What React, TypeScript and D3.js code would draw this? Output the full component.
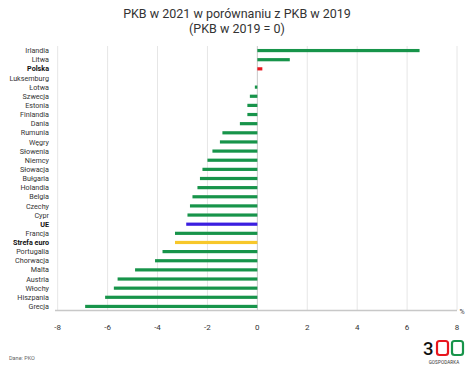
import React from "react";
import * as d3 from "d3";

const countries = [
  "Irlandia", "Litwa", "Polska", "Luksemburg", "Łotwa", "Szwecja", "Estonia", "Finlandia",
  "Dania", "Rumunia", "Węgry", "Słowenia", "Niemcy", "Słowacja", "Bułgaria", "Holandia",
  "Belgia", "Czechy", "Cypr", "UE", "Francja", "Strefa euro", "Portugalia", "Chorwacja",
  "Malta", "Austria", "Włochy", "Hiszpania", "Grecja",
];
const values = [
  6.5, 1.3, 0.2, 0.0, -0.1, -0.3, -0.4, -0.4,
  -0.7, -1.4, -1.5, -1.8, -2.0, -2.2, -2.3, -2.4,
  -2.6, -2.7, -2.8, -2.85, -3.3, -3.3, -3.8, -4.1,
  -4.9, -5.6, -5.75, -6.1, -6.9,
];
const boldLabels = ["Polska", "UE", "Strefa euro"];
const specialColors: Record<string, string> = {
  Polska: "#e8161e",
  UE: "#3b1ee0",
  "Strefa euro": "#f7c72a",
};
const xTicks = [-8, -6, -4, -2, 0, 2, 4, 6, 8];

const W = 474;
const H = 369;
const left = 57.7;
const right = 457;
const top = 46;
const bottom = 311;

export default function App() {
  const x = d3.scaleLinear().domain([-8, 8]).range([left, right]);
  const y = d3.scaleBand<string>().domain(countries).range([top, bottom]);
  const font = "Roboto, 'Open Sans', sans-serif";
  return (
    <svg width={W} height={H} style={{ position: "absolute", left: 0, top: 0, background: "#fff" }}>
      <text x={237} y={18} textAnchor="middle" fontFamily={font} fontSize={12.5} fill="#333">
        PKB w 2021 w porównaniu z PKB w 2019
      </text>
      <text x={237} y={33} textAnchor="middle" fontFamily={font} fontSize={12.5} fill="#333">
        (PKB w 2019 = 0)
      </text>
      {xTicks.map((t) => (
        <line key={"g" + t} x1={x(t)} x2={x(t)} y1={top} y2={bottom - 1}
          stroke={t === 0 ? "#c8c8c8" : "#e6e6e6"} strokeWidth={1} />
      ))}
      {countries.map((c, i) => {
        const v = values[i];
        const cy = (y(c) as number) + y.bandwidth() / 2;
        return (
          <g key={c}>
            <text x={49} y={cy + 2.6} textAnchor="end" fontFamily={font} fontSize={7.2}
              fontWeight={boldLabels.includes(c) ? 700 : 400} fill={boldLabels.includes(c) ? "#111" : "#333"}>
              {c}
            </text>
            {v !== 0 && (
              <rect x={Math.min(x(v), x(0))} y={cy - 1.6} width={Math.abs(x(v) - x(0))} height={3.2}
                fill={specialColors[c] || "#17944a"} />
            )}
          </g>
        );
      })}
      <line x1={55} x2={457} y1={310.5} y2={310.5} stroke="#c8c8c8" strokeWidth={1.6} />
      <text x={462} y={314} textAnchor="middle" fontFamily={font} fontSize={7} fill="#444">%</text>
      {xTicks.map((t) => (
        <text key={"t" + t} x={x(t)} y={329.5} textAnchor="middle" fontFamily={font} fontSize={8} fill="#333">
          {t}
        </text>
      ))}
      <text x={9} y={360} fontFamily={font} fontSize={5.5} fill="#666">Dane: PKO</text>
      <g fontFamily={font}>
        <text x={423} y={355} fontSize={18.5} fill="#111" fontWeight={500}>3</text>
        <rect x={437} y={341} width={11} height={14} rx={2.5} fill="none" stroke="#e8161e" strokeWidth={2.2} />
        <rect x={452} y={341} width={11} height={14} rx={2.5} fill="none" stroke="#17944a" strokeWidth={2.2} />
        <text x={444} y={363.5} textAnchor="middle" fontSize={4.6} fill="#333" letterSpacing={0.1}>GOSPODARKA</text>
      </g>
    </svg>
  );
}
